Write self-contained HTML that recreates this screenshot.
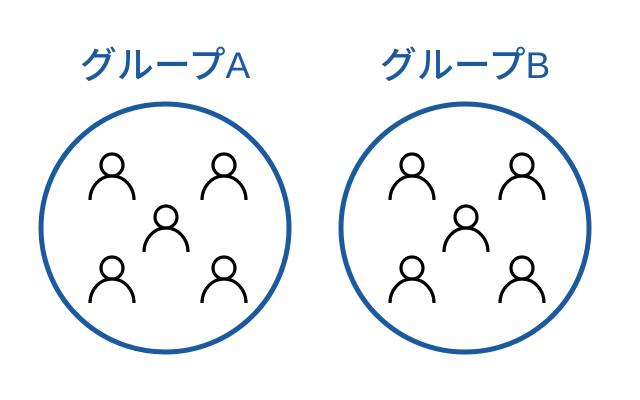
<!DOCTYPE html>
<html><head><style>
body{margin:0;background:#fff;}
svg{display:block;}
text{font-family:"Liberation Sans","Noto Sans CJK JP",sans-serif;font-size:37px;font-weight:500;fill:#1b5a9d;}
</style></head><body>
<svg width="640" height="400" viewBox="0 0 640 400" xmlns="http://www.w3.org/2000/svg">
<defs>
<g id="p" fill="none" stroke="#000" stroke-width="3.2">
<circle cx="0" cy="0" r="11"/>
<path d="M-22 35 A22 24 0 0 1 22 35"/>
</g>
</defs>
<text x="165" y="78" text-anchor="middle">グループA</text>
<text x="465" y="78" text-anchor="middle">グループB</text>
<circle cx="165" cy="228" r="124" fill="none" stroke="#1b5a9d" stroke-width="5"/>
<circle cx="465" cy="228" r="124" fill="none" stroke="#1b5a9d" stroke-width="5"/>
<use href="#p" x="112" y="165"/>
<use href="#p" x="224" y="165"/>
<use href="#p" x="166" y="217"/>
<use href="#p" x="112" y="268"/>
<use href="#p" x="224" y="268"/>
<use href="#p" x="412" y="165"/>
<use href="#p" x="522" y="165"/>
<use href="#p" x="466" y="217"/>
<use href="#p" x="412" y="268"/>
<use href="#p" x="522" y="268"/>
</svg>
</body></html>
